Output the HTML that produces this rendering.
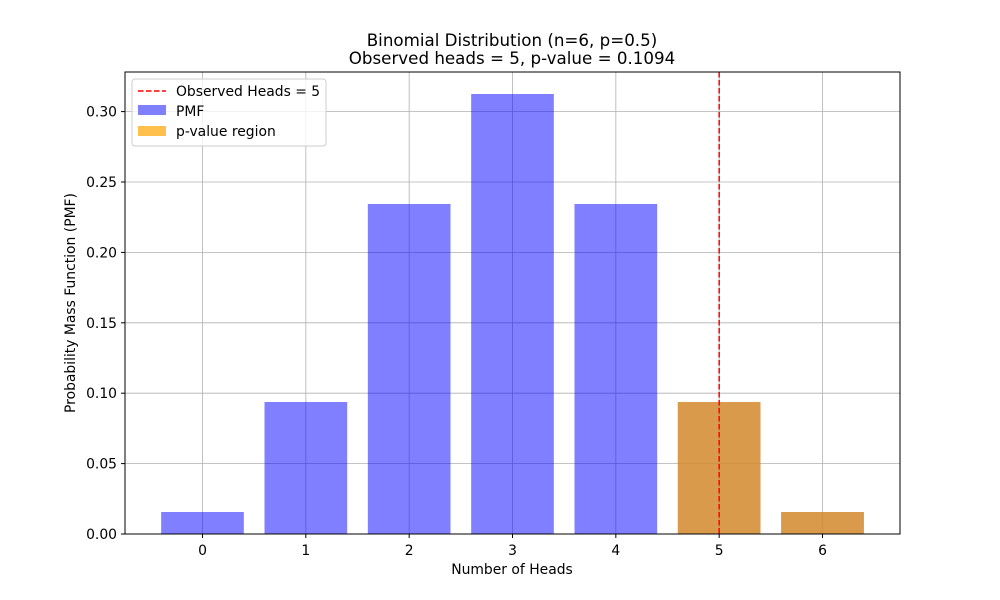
<!DOCTYPE html>
<html><head><meta charset="utf-8"><style>body{margin:0;background:#fff}svg{display:block;font-family:"DejaVu Sans","Liberation Sans",sans-serif}</style></head>
<body>
<svg id="chart" width="1000" height="600" viewBox="0 0 1000 600" xmlns="http://www.w3.org/2000/svg">
<rect width="1000" height="600" fill="#fff"/>
<text x="512" y="46" text-anchor="middle" font-size="16.7">Binomial Distribution (n=6, p=0.5)</text>
<text x="512" y="64" text-anchor="middle" font-size="16.7">Observed heads = 5, p-value = 0.1094</text>
<g id="grid"></g><g id="bars"></g><g id="ticks"></g>
<rect x="125" y="72" width="775" height="462" fill="none" stroke="#000" stroke-width="1"/>
<text x="512" y="574" text-anchor="middle" font-size="13.9">Number of Heads</text>
<text transform="translate(75,303) rotate(-90)" text-anchor="middle" font-size="13.9">Probability Mass Function (PMF)</text>
<g>
<rect x="132" y="79" width="194" height="67" rx="3" fill="#fff" fill-opacity="0.8" stroke="#ccc"/>
<line x1="138" y1="91" x2="166" y2="91" stroke="red" stroke-width="1.5" stroke-dasharray="5.5,2.5"/>
<text x="176" y="96" font-size="13.9">Observed Heads = 5</text>
<rect x="138" y="105" width="28" height="10" fill="#8080ff"/>
<text x="176" y="116" font-size="13.9">PMF</text>
<rect x="138" y="126" width="28" height="10" fill="#ffc04d"/>
<text x="176" y="136" font-size="13.9">p-value region</text>
</g>
</svg>
<script>
const categories=[0,1,2,3,4,5,6];
const pmf=[0.015625,0.09375,0.234375,0.3125,0.234375,0.09375,0.015625];
const pRegion=[5,6];
const observed=5;
const yTicks=[0,0.05,0.10,0.15,0.20,0.25,0.30];
const NS="http://www.w3.org/2000/svg";
const X=v=>125+(v+0.75)*775/7.5;
const Y=v=>534-v*462/0.328125;
function mk(t,a,p){const e=document.createElementNS(NS,t);for(const k in a)e.setAttribute(k,a[k]);p.appendChild(e);return e;}
const grid=document.getElementById('grid'),bars=document.getElementById('bars'),ticks=document.getElementById('ticks');
categories.forEach(c=>{const l=mk('line',{x1:X(c),x2:X(c),y1:72,y2:534,stroke:'#b0b0b0','stroke-width':0.8},grid);

const t=mk('line',{x1:X(c),x2:X(c),y1:534,y2:538,stroke:'#000'},ticks);

const tx=mk('text',{x:X(c),y:555,'text-anchor':'middle','font-size':13.9},ticks);tx.textContent=c;
});
yTicks.forEach(v=>{const l=mk('line',{x1:125,x2:900,y1:Y(v),y2:Y(v),stroke:'#b0b0b0','stroke-width':0.8},grid);

const t=mk('line',{x1:121,x2:125,y1:Y(v),y2:Y(v),stroke:'#000'},ticks);

const tx=mk('text',{x:117,y:Y(v)+5,'text-anchor':'end','font-size':13.9},ticks);tx.textContent=v.toFixed(2);
});
categories.forEach((c,i)=>{const b=mk('rect',{x:X(c-0.4),y:Y(pmf[i]),width:X(c+0.4)-X(c-0.4),height:Y(0)-Y(pmf[i]),fill:'#0000ff','fill-opacity':0.5},bars);
});
pRegion.forEach(c=>{const i=categories.indexOf(c);const b=mk('rect',{x:X(c-0.4),y:Y(pmf[i]),width:X(c+0.4)-X(c-0.4),height:Y(0)-Y(pmf[i]),fill:'#ffa500','fill-opacity':0.7},bars);
});
const ol=mk('line',{x1:X(observed),x2:X(observed),y1:72,y2:534,stroke:'red','stroke-width':1.5,'stroke-dasharray':'5.5,2.5'},bars);

</script>
</body></html>
